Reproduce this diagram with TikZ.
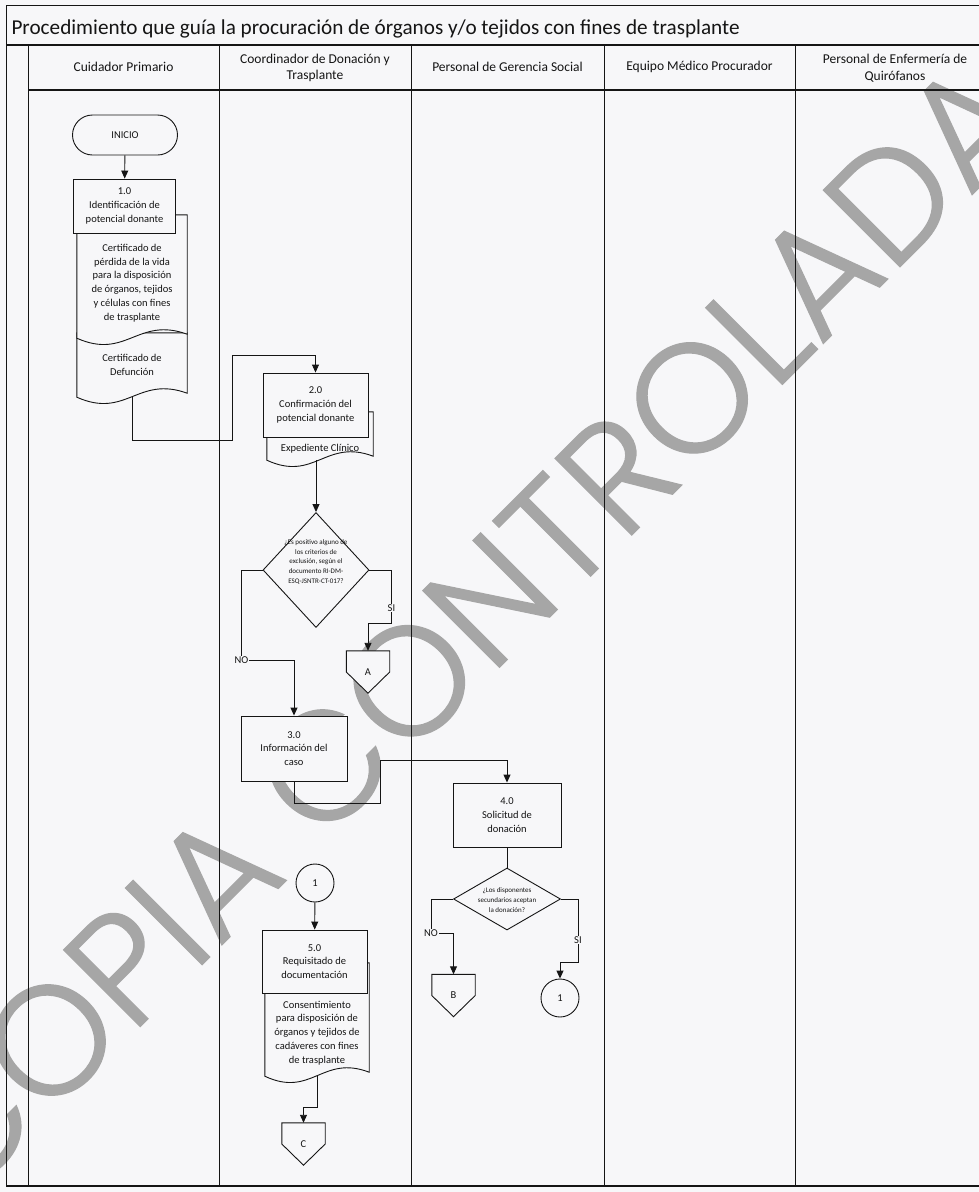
\documentclass[tikz,border=0pt]{standalone}
\usepackage{fontspec}
\setmainfont{Carlito}
\newfontfamily\stampfont{Poppins Light}[FakeBold=0.8]
\usepackage{tikz}
\usetikzlibrary{arrows.meta,positioning,shapes.geometric,calc,backgrounds}
\definecolor{pgpaper}{HTML}{F7F7F9}
\definecolor{pgink}{HTML}{151515}
\definecolor{pgstamp}{HTML}{A6A6A6}
\pgfdeclarelayer{stamp}
\pgfsetlayers{stamp,background,main}
\newcommand{\boxfont}{\fontsize{10.5}{13.8}\selectfont}
\newcommand{\qfont}{\fontsize{7}{9.8}\selectfont}
\tikzset{
  frame/.style={draw=pgink,line width=1pt},
  heavy/.style={draw=pgink,line width=1.8pt},
  hdr/.style={font=\fontsize{13.5}{16.5}\selectfont,align=center,text=pgink},
  proc/.style={draw=pgink,line width=0.9pt,fill=pgpaper,align=center,font=\boxfont,
               minimum width=105pt,minimum height=64pt,inner sep=1pt,text=pgink},
  term/.style={draw=pgink,line width=0.9pt,fill=pgpaper,rounded corners=20pt,
               minimum width=105pt,minimum height=40pt,font=\boxfont,text=pgink},
  docnode/.style={align=center,font=\boxfont,inner sep=0pt,text=pgink},
  decide/.style={diamond,draw=pgink,line width=0.9pt,fill=pgpaper,inner sep=0pt},
  qtxt/.style={align=center,font=\qfont,text=pgink,inner sep=0pt},
  conn/.style={circle,draw=pgink,line width=0.9pt,fill=pgpaper,minimum size=38pt,
               inner sep=0pt,font=\boxfont,text=pgink},
  offpg/.style={minimum width=43pt,minimum height=42pt,inner sep=0pt,font=\boxfont,text=pgink},
  flow/.style={draw=pgink,line width=0.9pt,-{Triangle[length=8pt,width=7pt]}},
  plain/.style={draw=pgink,line width=0.9pt},
  lbl/.style={fill=pgpaper,inner sep=0.6pt,font=\boxfont,text=pgink},
  wmark/.style={text=pgstamp,font=\stampfont\fontsize{155}{155}\selectfont,inner sep=0pt},
}
% document sheet with wavy bottom, drawn behind the boxes
\newcommand{\docwave}[2]{%
  \begin{pgfonlayer}{background}
  \draw[draw=pgink,line width=0.9pt,fill=pgpaper] ($(#1.north west)+(0,-#2)$) -- (#1.south west)
     .. controls ($(#1.south west)!0.45!(#1.south east)+(0,22)$)
        and ($(#1.south west)!0.55!(#1.south east)+(0,-22)$) .. ($(#1.south east)+(0,-4)$)
     -- ($(#1.north east)+(0,-#2)$) -- cycle;
  \end{pgfonlayer}}
% off-page connector
\newcommand{\offpage}[1]{%
  \begin{pgfonlayer}{background}
  \draw[draw=pgink,line width=0.9pt,fill=pgpaper] (#1.north west)
     -- ($(#1.north west)!0.5!(#1.south west)$) -- (#1.south)
     -- ($(#1.north east)!0.5!(#1.south east)$) -- (#1.north east) -- cycle;
  \end{pgfonlayer}}

\begin{document}
\begin{tikzpicture}[x=1pt,y=-1pt]
  \useasboundingbox (0,0) rectangle (979,1192);

  % ---------- paper and stamp ----------
  \begin{pgfonlayer}{stamp}
    \fill[pgpaper] (0,0) rectangle (979,1192);
    \node[wmark,rotate=45] (wm) at (462,628) {COPIA CONTROLADA};
  \end{pgfonlayer}

  % ---------- frame and lanes ----------
  \draw[frame] (6,5) rectangle (999,1186);
  \draw[heavy] (6,45) -- (999,45);
  \draw[heavy] (28,90) -- (999,90);
  \draw[heavy] (6,1186) -- (999,1186);
  \draw[frame] (28,45) -- (28,1186);
  \foreach \x in {219,411,604,795}
    {\draw[frame] (\x,45) -- (\x,1186);}

  \node[anchor=base west,font=\fontsize{21.2}{24}\selectfont,text=pgink] (title) at (8,34)
    {Procedimiento que guía la procuración de órganos y/o tejidos con fines de trasplante};

  \node[hdr] (h1) at (123.5,67) {Cuidador Primario};
  \node[hdr] (h2) at (315,68) {Coordinador de Donación y\\Trasplante};
  \node[hdr] (h3) at (507.5,67) {Personal de Gerencia Social};
  \node[hdr] (h4) at (699.5,67) {Equipo Médico Procurador};
  \node[hdr] (h5) at (895,68) {Personal de Enfermería de\\Quirófanos};

  % ---------- cuidador primario ----------
  \node[term] (start) at (125,135) {INICIO};
  \node[proc,minimum width=102pt,minimum height=54pt] (p1) at (124.5,206)
    {1.0\\Identificación de\\potencial donante};
  \node[docnode,minimum width=110pt,minimum height=64pt] (d2) at (132,365)
    {Certificado de\\Defunción};
  \node[docnode,minimum width=110pt,minimum height=110pt] (d1) at (132,283)
    {Certificado de\\pérdida de la vida\\para la disposición\\de órganos, tejidos\\y células con fines\\de trasplante};
  \docwave{d2}{0}
  \docwave{d1}{13}

  % ---------- coordinador ----------
  \node[proc] (p2) at (315.5,405) {2.0\\Confirmación del\\potencial donante};
  \node[docnode,minimum width=106pt,minimum height=22pt] (d3) at (320,449) {Expediente Clínico};
  \docwave{d3}{26}
  \node[decide,minimum width=106pt,minimum height=115pt] (q1) at (316,570) {};
  \node[qtxt] (q1t) at (316,562)
    {¿Es positivo alguno de\\los criterios de\\exclusión, según el\\documento RI-DM-\\ESQ-JSNTR-CT-017?};
  \node[offpg] (offA) at (368,672) {A};
  \offpage{offA}
  \node[proc,minimum width=106pt,minimum height=65pt] (p3) at (294,748.5)
    {3.0\\Información del\\caso};
  \node[conn] (c1a) at (315,883) {1};
  \node[proc,minimum height=63pt] (p5) at (314.5,961.5) {5.0\\Requisitado de\\documentación};
  \node[docnode,minimum width=104pt,minimum height=86pt] (d5) at (317,1033)
    {Consentimiento\\para disposición de\\órganos y tejidos de\\cadáveres con fines\\de trasplante};
  \docwave{d5}{27}
  \node[offpg] (offC) at (303.5,1144) {C};
  \offpage{offC}

  % ---------- gerencia social ----------
  \node[proc,minimum width=108pt] (p4) at (507,815) {4.0\\Solicitud de\\donación};
  \node[decide,minimum width=107pt,minimum height=62pt] (q2) at (507,899) {};
  \node[qtxt] (q2t) at (507,900) {¿Los disponentes\\secundarios aceptan\\la donación?};
  \node[offpg] (offB) at (453.5,995.5) {B};
  \offpage{offB}
  \node[conn] (c1b) at (560,998) {1};

  % ---------- connectors ----------
  \draw[flow] (start) -- (p1);
  \draw[flow] (d2.south) -- ++(0,43) -- ++(100,0) -- ++(0,-85) -| (p2.north);
  \draw[flow] (q1.north |- d3.south) -- (q1.north);
  \draw[flow] (q1.east) -- ++(22,0) -- ++(0,53) node[lbl,pos=0.72]{SI} -| (offA.north);
  \draw[flow] (q1.west) -- ++(-21,0) -- ++(0,90) node[lbl]{NO} -| (p3.north);
  \draw[flow] (p3.south) -- ++(0,22) -- ++(86,0) -- ++(0,-43) -| (p4.north);
  \draw[plain] (p4) -- (q2);
  \draw[flow] (q2.west) -- ++(-22,0) -- ++(0,34) node[lbl]{NO} -| (offB.north);
  \draw[flow] (q2.east) -- ++(17,0) -- ++(0,63) node[lbl,pos=0.65]{SI} -| (c1b.north);
  \draw[flow] (c1a) -- (p5);
  \draw[flow] (d5.south) -- ++(0,31) -| (offC.north);
\end{tikzpicture}
\end{document}
